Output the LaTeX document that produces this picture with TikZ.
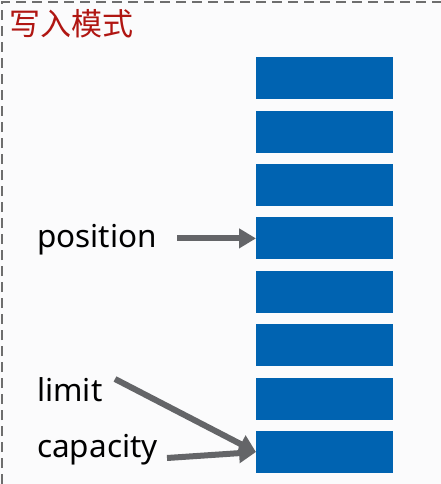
\documentclass[tikz,border=0pt]{standalone}
\usepackage{fontspec}
\setmainfont{Noto Sans}
\newfontfamily\cjk{Noto Sans CJK SC}
\usetikzlibrary{arrows.meta}
\definecolor{boxblue}{RGB}{0,99,177}
\definecolor{arrgrey}{RGB}{100,101,104}
\definecolor{titlered}{RGB}{176,22,18}
\definecolor{bggrey}{RGB}{251,251,252}
\definecolor{framegrey}{RGB}{110,110,110}
\begin{document}
\begin{tikzpicture}[x=1pt,y=-1pt,
  cell/.style={fill=boxblue,draw=none,minimum width=137pt,minimum height=42pt,inner sep=0pt,anchor=north west},
  lbl/.style={font=\fontsize{31.5}{36}\selectfont,text=black,anchor=base west,inner sep=0pt},
  arr/.style={draw=arrgrey,line width=6pt,-{Triangle[length=17pt,width=19pt]}},
  frame/.style={draw=framegrey,line width=2.5pt,dash pattern=on 10pt off 6pt}]
\useasboundingbox (0,0) rectangle (441,484);
\fill[bggrey] (0,0) rectangle (441,484);
\draw[frame] (2,484) -- (2,2) -- (441,2);
\node[font=\cjk\fontsize{31}{34}\selectfont,text=titlered,anchor=west,inner sep=0pt] (title) at (9,24) {写入模式};
\foreach \i in {1,...,8}{
  \node[cell] (b\i) at (256,{57+53.4*(\i-1)}) {};
}
\node[lbl] (pos) at (37,247) {position};
\node[lbl] (lim) at (37,401) {limit};
\node[lbl] (cap) at (37,457) {capacity};
\coordinate (pa) at (177,238);
\coordinate (la) at (115,379);
\coordinate (ca) at (167,458);
\draw[arr] (pa |- b4.west) -- (b4.west);
\draw[arr] (la) -- (b8.west);
\draw[arr] (ca) -- (b8.west);
\end{tikzpicture}
\end{document}
